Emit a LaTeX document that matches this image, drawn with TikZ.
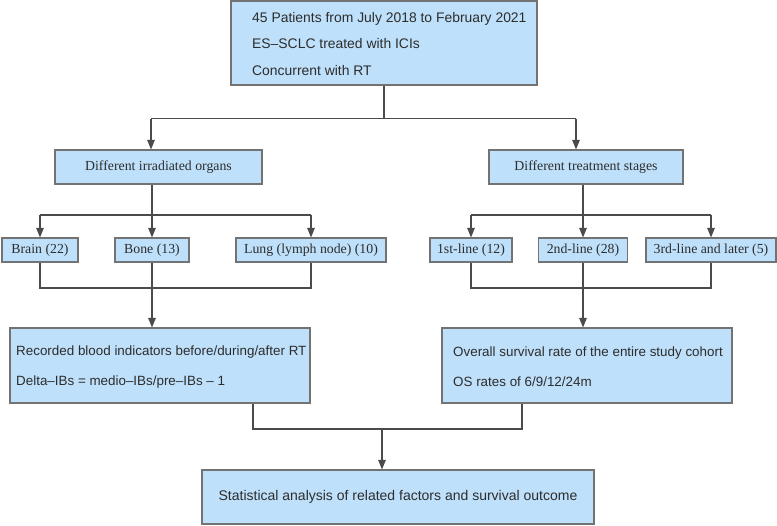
\documentclass[tikz,border=0pt]{standalone}
\usepackage{fontspec}
\setmainfont{Liberation Serif}
\newfontfamily\sansf{Liberation Sans}
\usetikzlibrary{arrows.meta}
\definecolor{boxfill}{RGB}{190,224,250}
\definecolor{boxline}{RGB}{115,115,115}
\definecolor{conn}{RGB}{75,75,75}
\definecolor{txtc}{RGB}{45,45,45}
\begin{document}
\begin{tikzpicture}[x=1pt,y=-1pt,
  box/.style={draw=boxline, fill=boxfill, line width=1.1pt, inner sep=0pt, text=txtc},
  serifbox/.style={box, font=\fontsize{13.8}{16}\selectfont},
  txt/.style={anchor=west, inner sep=0pt, align=left, text=txtc},
  conline/.style={draw=conn, line width=1.1pt},
  arr/.style={conline, -{Triangle[width=7.5pt,length=9.5pt]}}]
\useasboundingbox (0,0) rectangle (777,526);

% top
\node[box, minimum width=306pt, minimum height=84pt] (top) at (384,43) {};
\node[txt, font=\sansf\fontsize{13.9}{26.5}\selectfont] (toptext) at (252,44)
  {45 Patients from July 2018 to February 2021\\ES–SCLC treated with ICIs\\Concurrent with RT};

% level 2
\node[serifbox, minimum width=207pt, minimum height=34pt] (organs) at (158.5,167) {Different irradiated organs};
\node[serifbox, minimum width=194pt, minimum height=34pt] (stages) at (586,167) {Different treatment stages};

% level 3
\node[serifbox, minimum width=76pt, minimum height=24pt] (brain) at (40,250) {Brain (22)};
\node[serifbox, minimum width=74pt, minimum height=24pt] (bone) at (152,250) {Bone (13)};
\node[serifbox, minimum width=150pt, minimum height=24pt] (lung) at (311,250) {Lung (lymph node) (10)};
\node[serifbox, minimum width=82pt, minimum height=24pt] (first) at (471,250) {1st-line (12)};
\node[serifbox, minimum width=89pt, minimum height=24pt] (second) at (583,250) {2nd-line (28)};
\node[serifbox, minimum width=130pt, minimum height=24pt] (third) at (711,250) {3rd-line and later (5)};

% level 4
\node[box, minimum width=300pt, minimum height=75pt] (leftbox) at (160,365.5) {};
\node[txt, font=\sansf\fontsize{13.4}{30}\selectfont] (lefttext) at (16,367)
  {Recorded blood indicators before/during/after RT\\Delta–IBs = medio–IBs/pre–IBs – 1};
\node[box, minimum width=290pt, minimum height=75pt] (rightbox) at (587,365.5) {};
\node[txt, font=\sansf\fontsize{13.4}{30}\selectfont] (righttext) at (453,367)
  {Overall survival rate of the entire study cohort\\OS rates of 6/9/12/24m};

% bottom
\node[box, minimum width=392pt, minimum height=54pt, font=\sansf\fontsize{14}{16}\selectfont] (final) at (398,497)
  {Statistical analysis of related factors and survival outcome};

% connectors top -> level 2
\coordinate (j1) at (384,118.7);
\coordinate (j1l) at (151,118.7);
\coordinate (j1r) at (576,118.7);
\draw[conline] (top.south) -- (j1);
\draw[conline] (j1l) -- (j1r);
\draw[arr] (j1l) -- (j1l |- organs.north);
\draw[arr] (j1r) -- (j1r |- stages.north);

% organs -> level 3
\coordinate (o2) at (152,215);
\draw[conline] (o2 |- organs.south) -- (o2);
\draw[conline] (brain.north |- o2) -- (lung.north |- o2);
\draw[arr] (brain.north |- o2) -- (brain.north);
\draw[arr] (o2) -- (bone.north);
\draw[arr] (lung.north |- o2) -- (lung.north);

% stages -> level 3
\coordinate (s2) at (583,215);
\draw[conline] (s2 |- stages.south) -- (s2);
\draw[conline] (first.north |- s2) -- (third.north |- s2);
\draw[arr] (first.north |- s2) -- (first.north);
\draw[arr] (s2) -- (second.north);
\draw[arr] (third.north |- s2) -- (third.north);

% level 3 -> level 4
\coordinate (o3) at (152,288);
\draw[conline] (brain.south) -- (brain.south |- o3) -- (lung.south |- o3) -- (lung.south);
\draw[arr] (bone.south) -- (bone.south |- leftbox.north);
\coordinate (s3) at (583,288);
\draw[conline] (first.south) -- (first.south |- s3) -- (third.south |- s3) -- (third.south);
\draw[arr] (second.south) -- (second.south |- rightbox.north);

% level 4 -> final
\coordinate (bl) at (253,429);
\coordinate (br) at (522,429);
\coordinate (bc) at (382,429);
\draw[conline] (bl |- leftbox.south) -- (bl) -- (br) -- (br |- rightbox.south);
\draw[arr] (bc) -- (bc |- final.north);
\end{tikzpicture}
\end{document}
